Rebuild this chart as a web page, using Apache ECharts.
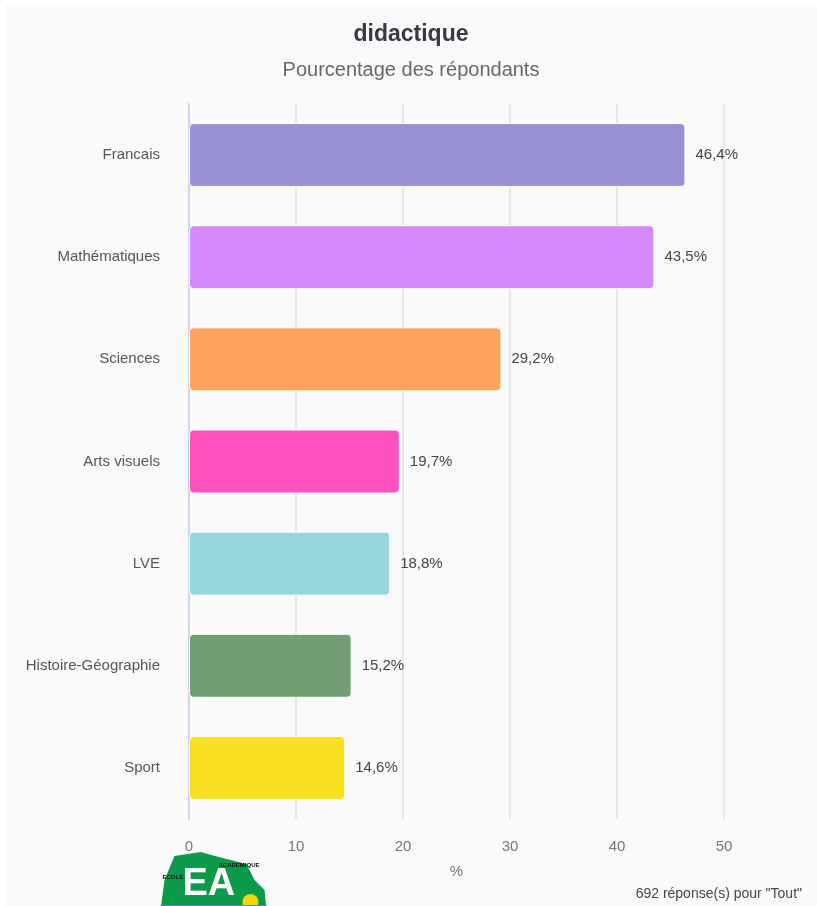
<!DOCTYPE html>
<html>
<head>
<meta charset="utf-8">
<title>didactique</title>
<script src="https://cdn.jsdelivr.net/npm/echarts@6/dist/echarts.min.js"></script>
<style>
  html, body { margin: 0; padding: 0; background: #ffffff; }
  #chart { position: absolute; left: 5px; top: 5px; width: 812px; height: 901px; }
</style>
</head>
<body>
<div id="chart"></div>
<script>
// données
const categories = ['Francais', 'Mathématiques', 'Sciences', 'Arts visuels', 'LVE', 'Histoire-Géographie', 'Sport'];
const values = [46.4, 43.5, 29.2, 19.7, 18.8, 15.2, 14.6];
const colors = ['#9891d4', '#d58aff', '#ffa35e', '#ff51be', '#95d5dc', '#729e73', '#f7df22'];
const xTicks = [0, 10, 20, 30, 40, 50];
const footer = '692 réponse(s) pour "Tout"';

const font = 'Liberation Sans, Arial, sans-serif';

let myChart = echarts.init(document.getElementById('chart'));
myChart.setOption({
    backgroundColor: '#fafafa',
    animation: false,
    title: [
        {
            text: 'didactique',
            left: 'center',
            top: 13,
            textStyle: { fontFamily: font, fontSize: 23, fontWeight: 'bold', color: '#333a40' }
        },
        {
            text: 'Pourcentage des répondants',
            left: 'center',
            top: 50,
            textStyle: { fontFamily: font, fontSize: 20, fontWeight: 'normal', color: '#666666' }
        },
        {
            text: footer,
            right: 10,
            top: 877,
            textStyle: { fontFamily: font, fontSize: 14, fontWeight: 'normal', color: '#444444' }
        }
    ],
    grid: { left: 184, right: 93, top: 99, bottom: 87 },
    xAxis: {
        type: 'value',
        min: xTicks[0],
        max: xTicks[xTicks.length - 1],
        interval: 10,
        name: '%',
        nameLocation: 'middle',
        nameGap: 45,
        nameTextStyle: { fontFamily: font, fontSize: 15, color: '#777777' },
        axisLine: { show: false },
        axisTick: { show: false },
        axisLabel: { fontFamily: font, fontSize: 15, color: '#777777', margin: 20 },
        splitLine: { lineStyle: { color: '#e6e6e6', width: 2 } }
    },
    yAxis: {
        type: 'category',
        data: categories,
        inverse: true,
        axisLine: { show: true, lineStyle: { color: '#ccd6eb', width: 2 } },
        axisTick: { show: false },
        axisLabel: { fontFamily: font, fontSize: 15, color: '#555555', margin: 29, padding: [6, 0, 0, 0] }
    },
    series: [
        {
            type: 'bar',
            barWidth: 64,
            data: values.map((v, i) => ({ value: v, itemStyle: { color: colors[i] } })),
            itemStyle: { borderRadius: 4, borderColor: '#ffffff', borderWidth: 1 },
            label: {
                show: true,
                position: 'right',
                distance: 10,
                fontFamily: font,
                fontSize: 15,
                color: '#444444',
                padding: [4, 0, 0, 0],
                formatter: p => String(p.value).replace('.', ',') + '%'
            }
        }
    ],
    graphic: [
        {
            type: 'group',
            left: 153,
            top: 847,
            children: [
                {
                    type: 'polygon',
                    shape: { points: [[14, 6], [40, 2], [62, 8], [86, 14], [94, 30], [104, 40], [106, 60], [0, 60], [4, 30]] },
                    style: { fill: '#0b9a4a' }
                },
                {
                    type: 'text',
                    left: 22, top: 16,
                    style: { text: 'EA', fill: '#ffffff', font: 'bold 38px Liberation Sans, Arial, sans-serif' }
                },
                {
                    type: 'text',
                    left: 58, top: 12,
                    style: { text: 'ACADEMIQUE', fill: '#111111', font: 'bold 6px Liberation Sans, Arial, sans-serif' }
                },
                {
                    type: 'text',
                    left: 2, top: 24,
                    style: { text: 'ECOLE', fill: '#111111', font: 'bold 6px Liberation Sans, Arial, sans-serif' }
                },
                {
                    type: 'circle',
                    shape: { cx: 90, cy: 52, r: 8 },
                    style: { fill: '#f5d20c' }
                },
                {
                    type: 'line',
                    shape: { x1: 0, y1: 56, x2: 106, y2: 56 },
                    style: { stroke: '#3a8fd8', lineWidth: 2 }
                }
            ]
        }
    ]
});
</script>
</body>
</html>
